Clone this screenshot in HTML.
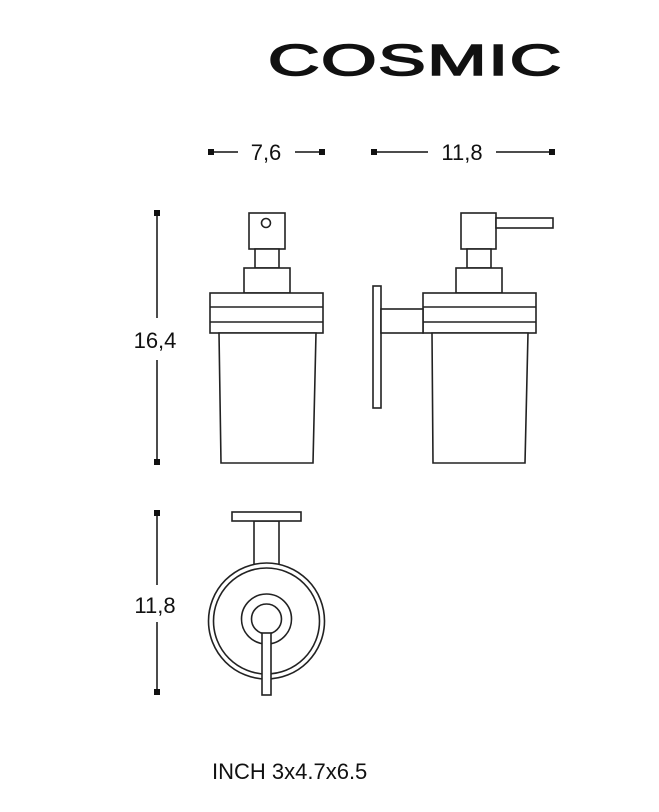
<!DOCTYPE html>
<html><head><style>
body{margin:0;background:#fff;width:659px;height:807px;overflow:hidden}
</style></head><body>
<svg width="659" height="807" viewBox="0 0 659 807" xmlns="http://www.w3.org/2000/svg" font-family="Liberation Sans, sans-serif">
<text x="0" y="0" font-size="44" font-weight="normal" fill="#111" stroke="#111" stroke-width="1.6" transform="translate(268,75) scale(1.62,1)" letter-spacing="1">COSMIC</text>
<g fill="#111">
<rect x="208" y="149" width="6" height="6"/><rect x="319" y="149" width="6" height="6"/>
<rect x="371" y="149" width="6" height="6"/><rect x="549" y="149" width="6" height="6"/>
<rect x="154" y="210" width="6" height="6"/><rect x="154" y="459" width="6" height="6"/>
<rect x="154" y="510" width="6" height="6"/><rect x="154" y="689" width="6" height="6"/>
</g>
<g stroke="#111" stroke-width="1.5" fill="none">
<line x1="211" y1="152" x2="238" y2="152"/><line x1="295" y1="152" x2="322" y2="152"/>
<line x1="374" y1="152" x2="428" y2="152"/><line x1="496" y1="152" x2="552" y2="152"/>
<line x1="157" y1="213" x2="157" y2="318"/><line x1="157" y1="360" x2="157" y2="462"/>
<line x1="157" y1="513" x2="157" y2="585"/><line x1="157" y1="622" x2="157" y2="692"/>
</g>
<g font-size="22" fill="#111">
<text x="266" y="160" text-anchor="middle">7,6</text>
<text x="462" y="160" text-anchor="middle">11,8</text>
<text x="155" y="348" text-anchor="middle">16,4</text>
<text x="155" y="613" text-anchor="middle">11,8</text>
<text x="212" y="779">INCH 3x4.7x6.5</text>
</g>
<g stroke="#222" stroke-width="1.6" fill="#fff">
<rect x="249" y="213" width="36" height="36"/><circle cx="266" cy="223" r="4.5"/>
<rect x="255" y="249" width="24" height="19"/>
<rect x="244" y="268" width="46" height="25"/>
<rect x="210" y="293" width="113" height="40"/>
<line x1="210" y1="307" x2="323" y2="307"/><line x1="210" y1="322" x2="323" y2="322"/>
<polygon points="219,333 316,333 313,463 221,463"/>
<rect x="461" y="213" width="35" height="36"/>
<rect x="496" y="218" width="57" height="10"/>
<rect x="467" y="249" width="24" height="19"/>
<rect x="456" y="268" width="46" height="25"/>
<rect x="423" y="293" width="113" height="40"/>
<line x1="423" y1="307" x2="536" y2="307"/><line x1="423" y1="322" x2="536" y2="322"/>
<polygon points="432,333 528,333 525,463 433,463"/>
<rect x="373" y="286" width="8" height="122"/>
<rect x="381" y="309" width="42" height="24"/>
<rect x="254" y="521" width="25" height="45"/>
<rect x="232" y="512" width="69" height="9"/>
<circle cx="266.5" cy="621" r="58"/>
<circle cx="266.5" cy="621" r="53"/>
<circle cx="266.5" cy="619" r="25"/>
<circle cx="266.5" cy="619" r="15"/>
<rect x="262" y="633" width="9" height="62"/>
</g>
</svg>
</body></html>
